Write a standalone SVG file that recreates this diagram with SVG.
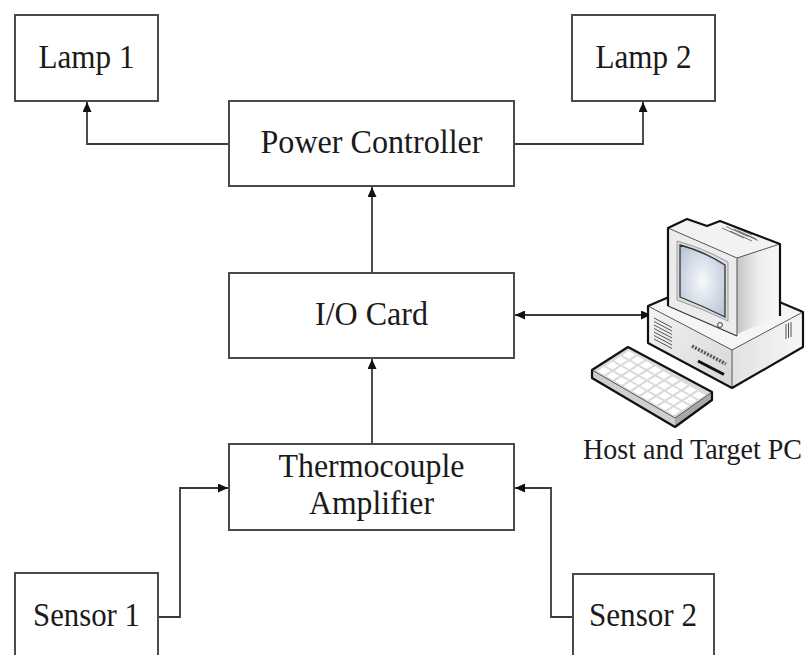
<svg xmlns="http://www.w3.org/2000/svg" width="811" height="655" viewBox="0 0 811 655">
  <defs>
    <style>
      .box { fill: #ffffff; stroke: #4a4a4a; stroke-width: 2; }
      .lbl { font-family: "Liberation Serif", "Times New Roman", serif; font-size: 34px; fill: #1a1a1a; text-anchor: middle; }
      .cap { font-family: "Liberation Serif", "Times New Roman", serif; font-size: 29px; fill: #1a1a1a; }
      .wire { fill: none; stroke: #3a3a3a; stroke-width: 1.8; }
      .edge { fill: none; stroke: #111111; stroke-width: 2.2; stroke-linejoin: round; }
      .thin { fill: none; stroke: #555555; stroke-width: 1; }
    </style>
    <marker id="arrow" markerUnits="userSpaceOnUse" markerWidth="11" markerHeight="10" refX="10" refY="4.5" orient="auto">
      <path d="M0,0 L10,4.5 L0,9 Z" fill="#111111"/>
    </marker>
    <marker id="arrowStart" markerUnits="userSpaceOnUse" markerWidth="11" markerHeight="10" refX="0" refY="4.5" orient="auto">
      <path d="M10,0 L0,4.5 L10,9 Z" fill="#111111"/>
    </marker>
    <radialGradient id="screenGrad" cx="0.5" cy="0.5" r="0.7">
      <stop offset="0" stop-color="#f7f9fc"/>
      <stop offset="1" stop-color="#b4c0d4"/>
    </radialGradient>
    <linearGradient id="sideGrad" x1="0" y1="0" x2="1" y2="0">
      <stop offset="0" stop-color="#c4c4c4"/>
      <stop offset="0.5" stop-color="#eeeeee"/>
      <stop offset="1" stop-color="#f8f8f8"/>
    </linearGradient>
    <linearGradient id="frontGrad" x1="0" y1="0" x2="1" y2="1">
      <stop offset="0" stop-color="#f4f4f4"/>
      <stop offset="1" stop-color="#d6d6d6"/>
    </linearGradient>
    <linearGradient id="caseSide" x1="0" y1="0" x2="1" y2="0">
      <stop offset="0" stop-color="#e2e2e2"/>
      <stop offset="1" stop-color="#f6f6f6"/>
    </linearGradient>
  </defs>

  <rect x="0" y="0" width="811" height="655" fill="#ffffff"/>

  <!-- connectors -->
  <g id="connectors">
    <polyline class="wire" points="229,144 87,144 87,102" marker-end="url(#arrow)"/>
    <polyline class="wire" points="514,144 643,144 643,102" marker-end="url(#arrow)"/>
    <line class="wire" x1="372" y1="273" x2="372" y2="187" marker-end="url(#arrow)"/>
    <line class="wire" x1="372" y1="444" x2="372" y2="359" marker-end="url(#arrow)"/>
    <line class="wire" x1="515" y1="315" x2="651" y2="315" marker-start="url(#arrowStart)" marker-end="url(#arrow)"/>
    <polyline class="wire" points="158,617 180,617 180,488 228,488" marker-end="url(#arrow)"/>
    <polyline class="wire" points="573,617 551,617 551,488 515,488" marker-end="url(#arrow)"/>
  </g>

  <g id="lamp1">
    <rect class="box" x="15" y="15" width="143" height="86"/>
    <text class="lbl" x="86.5" y="68" textLength="96" lengthAdjust="spacingAndGlyphs">Lamp 1</text>
  </g>
  <g id="lamp2">
    <rect class="box" x="572" y="15" width="143" height="86"/>
    <text class="lbl" x="643.5" y="68" textLength="96" lengthAdjust="spacingAndGlyphs">Lamp 2</text>
  </g>
  <g id="power-controller">
    <rect class="box" x="229" y="101" width="285" height="85"/>
    <text class="lbl" x="371.5" y="153" textLength="222" lengthAdjust="spacingAndGlyphs">Power Controller</text>
  </g>
  <g id="io-card">
    <rect class="box" x="229" y="273" width="285" height="85"/>
    <text class="lbl" x="371.5" y="325" textLength="113" lengthAdjust="spacingAndGlyphs">I/O Card</text>
  </g>
  <g id="thermocouple-amplifier">
    <rect class="box" x="229" y="444" width="285" height="86"/>
    <text class="lbl" x="371.5" y="477" textLength="186" lengthAdjust="spacingAndGlyphs">Thermocouple</text>
    <text class="lbl" x="371.5" y="514" textLength="125" lengthAdjust="spacingAndGlyphs">Amplifier</text>
  </g>
  <g id="sensor1">
    <rect class="box" x="15" y="573" width="143" height="100"/>
    <text class="lbl" x="86.5" y="626" textLength="107" lengthAdjust="spacingAndGlyphs">Sensor 1</text>
  </g>
  <g id="sensor2">
    <rect class="box" x="573" y="574" width="141" height="100"/>
    <text class="lbl" x="643" y="626" textLength="108" lengthAdjust="spacingAndGlyphs">Sensor 2</text>
  </g>

  <!-- desktop computer -->
  <g id="host-pc">
    <!-- system case -->
    <polygon points="648,306 718,276 803,312 732,350" fill="#f5f5f5"/>
    <polygon points="648,306 732,350 732,388 648,343" fill="url(#frontGrad)"/>
    <polygon points="732,350 803,312 803,347 732,388" fill="url(#caseSide)"/>
    <polyline class="thin" points="648,306 732,350 803,312"/>
    <line class="thin" x1="732" y1="350" x2="732" y2="388"/>
    <g stroke="#555" stroke-width="1">
      <line x1="654" y1="318" x2="672" y2="327.5"/>
      <line x1="654" y1="321.5" x2="672" y2="331"/>
      <line x1="654" y1="325" x2="672" y2="334.5"/>
      <line x1="654" y1="328.5" x2="672" y2="338"/>
      <line x1="654" y1="332" x2="672" y2="341.5"/>
      <line x1="654" y1="335.5" x2="672" y2="345"/>
      <line x1="654" y1="339" x2="672" y2="348.5"/>
      <line x1="786" y1="324" x2="786" y2="339"/>
      <line x1="788.5" y1="323" x2="788.5" y2="338"/>
      <line x1="791" y1="322" x2="791" y2="337"/>
    </g>
    <line x1="692" y1="346" x2="726" y2="364" stroke="#555" stroke-width="3.5" stroke-dasharray="2,1.4"/>
    <line x1="698" y1="361" x2="724" y2="374.5" stroke="#111" stroke-width="3"/>
    <path class="edge" d="M648,306 L718,276 L803,312 L803,347 L732,388 L648,343 Z"/>

    <!-- monitor -->
    <polygon points="668,228 687,219 707,226 720,221 780,244 737,258" fill="#f2f2f2"/>
    <g stroke="#666" stroke-width="0.9">
      <line x1="722" y1="228" x2="744" y2="238"/>
      <line x1="726" y1="226.5" x2="748" y2="236.5"/>
      <line x1="730" y1="225" x2="752" y2="235"/>
      <line x1="734" y1="229" x2="756" y2="239"/>
      <line x1="730" y1="231" x2="752" y2="241"/>
      <line x1="738" y1="231" x2="758" y2="240.5"/>
    </g>
    <polygon points="737,258 780,244 780,316 737,334" fill="url(#sideGrad)"/>
    <polygon points="668,228 737,258 737,336 668,306" fill="#ececec"/>
    <path d="M677,241 Q703,248 728,262 L728,321 Q703,309 677,300 Z" fill="#dcdcdc" stroke="#888" stroke-width="0.8"/>
    <path d="M680,245 Q703,251 725,265 L725,317 Q703,306 680,297 Z" fill="url(#screenGrad)" stroke="#333" stroke-width="1.3"/>
    <circle cx="720" cy="325" r="2.4" fill="#ffffff" stroke="#333" stroke-width="1"/>
    <line class="thin" x1="668" y1="228" x2="737" y2="258"/>
    <line class="thin" x1="737" y1="258" x2="780" y2="244"/>
    <line class="thin" x1="737" y1="258" x2="737" y2="336"/>
    <path class="edge" d="M668,306 L668,228 L687,219 L707,226 L720,221 L780,244 L780,316"/>
    <line x1="668" y1="306" x2="737" y2="336" stroke="#333" stroke-width="1.2"/>

    <!-- keyboard -->
    <polygon points="592,370 675,418 675,427 592,378" fill="#cfcfcf"/>
    <polygon points="675,418 712,392 712,400 675,427" fill="#a8a8a8"/>
    <polygon points="592,370 628,347 712,392 675,418" fill="#dadada"/>
    <g transform="matrix(8.3 4.8 3.6 -2.3 592 370)" fill="#ffffff">
      <rect x="0.45" y="0.5" width="0.8" height="1.8"/>
      <rect x="1.5" y="0.5" width="0.8" height="1.8"/>
      <rect x="2.55" y="0.5" width="0.8" height="1.8"/>
      <rect x="3.6" y="0.5" width="0.8" height="1.8"/>
      <rect x="4.65" y="0.5" width="0.8" height="1.8"/>
      <rect x="5.7" y="0.5" width="0.8" height="1.8"/>
      <rect x="6.75" y="0.5" width="0.8" height="1.8"/>
      <rect x="7.8" y="0.5" width="0.8" height="1.8"/>
      <rect x="8.85" y="0.5" width="0.8" height="1.8"/>
      <rect x="0.45" y="2.8" width="0.8" height="1.8"/>
      <rect x="1.5" y="2.8" width="0.8" height="1.8"/>
      <rect x="2.55" y="2.8" width="0.8" height="1.8"/>
      <rect x="3.6" y="2.8" width="0.8" height="1.8"/>
      <rect x="4.65" y="2.8" width="0.8" height="1.8"/>
      <rect x="5.7" y="2.8" width="0.8" height="1.8"/>
      <rect x="6.75" y="2.8" width="0.8" height="1.8"/>
      <rect x="7.8" y="2.8" width="0.8" height="1.8"/>
      <rect x="8.85" y="2.8" width="0.8" height="1.8"/>
      <rect x="0.45" y="5.1" width="0.8" height="1.8"/>
      <rect x="1.5" y="5.1" width="0.8" height="1.8"/>
      <rect x="2.55" y="5.1" width="0.8" height="1.8"/>
      <rect x="3.6" y="5.1" width="0.8" height="1.8"/>
      <rect x="4.65" y="5.1" width="0.8" height="1.8"/>
      <rect x="5.7" y="5.1" width="0.8" height="1.8"/>
      <rect x="6.75" y="5.1" width="0.8" height="1.8"/>
      <rect x="7.8" y="5.1" width="0.8" height="1.8"/>
      <rect x="8.85" y="5.1" width="0.8" height="1.8"/>
      <rect x="0.45" y="7.4" width="0.8" height="1.8"/>
      <rect x="1.5" y="7.4" width="0.8" height="1.8"/>
      <rect x="2.55" y="7.4" width="0.8" height="1.8"/>
      <rect x="3.6" y="7.4" width="0.8" height="1.8"/>
      <rect x="4.65" y="7.4" width="0.8" height="1.8"/>
      <rect x="5.7" y="7.4" width="0.8" height="1.8"/>
      <rect x="6.75" y="7.4" width="0.8" height="1.8"/>
      <rect x="7.8" y="7.4" width="0.8" height="1.8"/>
      <rect x="8.85" y="7.4" width="0.8" height="1.8"/>
    </g>
    <line class="thin" x1="592" y1="370" x2="675" y2="418"/>
    <line class="thin" x1="675" y1="418" x2="712" y2="392"/>
    <path class="edge" d="M592,370 L628,347 L712,392 L712,400 L675,427 L592,378 Z"/>

    <text class="cap" x="583" y="459" textLength="219" lengthAdjust="spacingAndGlyphs">Host and Target PC</text>
  </g>
</svg>
